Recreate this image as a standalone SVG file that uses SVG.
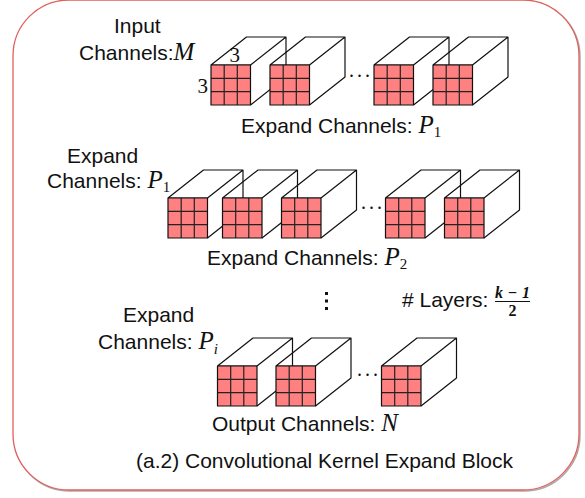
<svg xmlns="http://www.w3.org/2000/svg" width="585" height="498" viewBox="0 0 585 498">
<style>
text{font-family:"Liberation Sans",Arial,sans-serif;font-size:21px;fill:#111}
.m{font-family:"Liberation Serif","Times New Roman",serif;font-style:italic;font-size:25px}
.s{font-family:"Liberation Serif","Times New Roman",serif;font-size:15px;font-style:normal}
.n{font-family:"Liberation Serif","Times New Roman",serif;font-size:21px}
.d{font-family:"Liberation Serif","Times New Roman",serif;font-size:20px;letter-spacing:3px}
.f{font-family:"Liberation Serif","Times New Roman",serif;font-size:16px;font-weight:bold}
.e{fill:none;stroke:#111;stroke-width:1.2;stroke-linejoin:round}
.g{fill:none;stroke:#222;stroke-width:1.2}
</style>
<defs>
<g id="cube">
<path class="e" d="M0 0L35.500 -28H75V12L39.500 40M39.500 0L75 -28M39.500 0H0"/>
<rect x="0" y="0" width="39.500" height="40" fill="#ff8080"/>
<path class="g" d="M13.200 0V40M26.300 0V40M0 13.300H39.500M0 26.700H39.500"/>
<rect x="0" y="0" width="39.500" height="40" class="e"/>
</g>
</defs>
<g id="frame">
<rect x="14" y="1" width="566" height="490" rx="56" fill="none" stroke="#888" stroke-width="1.500" opacity="0.7"/>
<rect x="13" y="0" width="566" height="490" rx="56" fill="#fff" stroke="#e0605c" stroke-width="1.300"/>
</g>
<g id="connectors"></g>
<g id="row1">
<g id="r1c1"><use href="#cube" x="211" y="65"/></g>
<g id="r1c2"><use href="#cube" x="270" y="65"/></g>
<g id="r1c3"><use href="#cube" x="374" y="65"/></g>
<g id="r1c4"><use href="#cube" x="433" y="65"/></g>
<text class="n" x="229.500" y="62">3</text>
<text class="n" x="197.500" y="93">3</text>
<text class="d" x="349" y="77">...</text>
</g>
<g id="row2">
<g id="r2c1"><use href="#cube" x="168" y="198"/></g>
<g id="r2c2"><use href="#cube" x="222.500" y="198"/></g>
<g id="r2c3"><use href="#cube" x="281.500" y="198"/></g>
<g id="r2c4"><use href="#cube" x="385.500" y="198"/></g>
<g id="r2c5"><use href="#cube" x="444.500" y="198"/></g>
<text class="d" x="361" y="209">...</text>
</g>
<g id="row3">
<g id="r3c1"><use href="#cube" x="217.500" y="366"/></g>
<g id="r3c2"><use href="#cube" x="276" y="366"/></g>
<g id="r3c3"><use href="#cube" x="381.500" y="366"/></g>
<text class="d" x="357" y="376">...</text>
</g>
<g id="labels">
<text x="114" y="33">Input</text>
<text x="79" y="60">Channels:<tspan class="m">M</tspan></text>
<text x="241" y="133">Expand Channels: <tspan class="m">P</tspan><tspan class="s" dy="4">1</tspan></text>
<text x="67" y="163">Expand</text>
<text x="47" y="188">Channels: <tspan class="m">P</tspan><tspan class="s" dy="4">1</tspan></text>
<text x="207" y="265">Expand Channels: <tspan class="m">P</tspan><tspan class="s" dy="4">2</tspan></text>
<text x="123" y="322">Expand</text>
<text x="98" y="349">Channels: <tspan class="m">P</tspan><tspan class="s" dy="5" style="font-style:italic">i</tspan></text>
<text x="402" y="307"># Layers:</text>
<text class="f" x="495" y="298" style="font-style:italic" textLength="35">k−1</text>
<path d="M495 301.500H530" stroke="#111" stroke-width="1" fill="none"/>
<text class="f" x="508.500" y="316">2</text>
<text x="212" y="431">Output Channels: <tspan class="m">N</tspan></text>
<text x="136" y="468">(a.2) Convolutional Kernel Expand Block</text>
</g>
<g id="vdots" fill="#111">
<rect x="325" y="292" width="3" height="3"/><rect x="325" y="299.500" width="3" height="3"/><rect x="325" y="307" width="3" height="3"/>
</g>
</svg>
